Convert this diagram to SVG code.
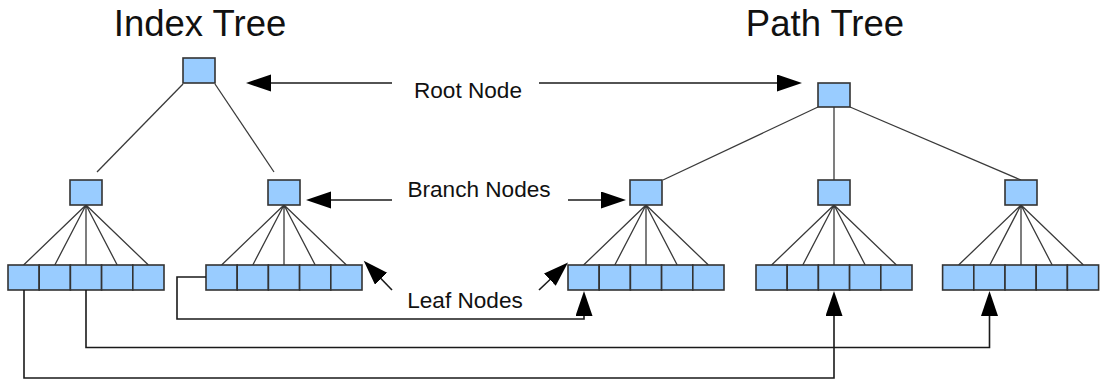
<svg xmlns="http://www.w3.org/2000/svg" width="1105" height="381" viewBox="0 0 1105 381">
  <style>
    .node { fill: #99ccff; stroke: #333; stroke-width: 1.6; }
    .edge { stroke: #3a3a3a; stroke-width: 1.3; fill: none; }
    .conn { stroke: #1a1a1a; stroke-width: 1.6; fill: none; }
    .arrow { stroke: #1a1a1a; stroke-width: 1.6; fill: none; marker-end: url(#head); }
    .title { font-family: "Liberation Sans", Arial, sans-serif; font-size: 36.5px; fill: #111; text-anchor: middle; }
    .label { font-family: "Liberation Sans", Arial, sans-serif; font-size: 22.6px; fill: #111; text-anchor: middle; }
  </style>
  <defs>
    <!-- filled arrowhead, anchored at its base so lines stop where the head starts -->
    <marker id="head" markerUnits="userSpaceOnUse" markerWidth="26" markerHeight="18" refX="1" refY="8.5" orient="auto">
      <path d="M0,0 L25,8.5 L0,17 Z" fill="#000"/>
    </marker>
  </defs>

  <rect width="1105" height="381" fill="#fff"/>

  <!-- titles -->
  <text class="title" x="200" y="36">Index Tree</text>
  <text class="title" x="825" y="36">Path Tree</text>

  <!-- tree edges -->
  <g id="tree-edges">
    <!-- index tree -->
    <line class="edge" x1="183" y1="84" x2="97" y2="172"/>
    <line class="edge" x1="215" y1="84" x2="274" y2="172"/>
    <path class="edge" d="M86,205 L23.6,265 M86,205 L54.8,265 M86,205 L86,265 M86,205 L117.2,265 M86,205 L148.4,265"/>
    <path class="edge" d="M284,205 L221.6,265 M284,205 L252.8,265 M284,205 L284,265 M284,205 L315.2,265 M284,205 L346.4,265"/>
    <!-- path tree -->
    <line class="edge" x1="818" y1="107" x2="663" y2="180"/>
    <line class="edge" x1="834" y1="107" x2="834" y2="180"/>
    <line class="edge" x1="850" y1="107" x2="1021" y2="180"/>
    <path class="edge" d="M646,205 L583.6,265 M646,205 L614.8,265 M646,205 L646,265 M646,205 L677.2,265 M646,205 L708.4,265"/>
    <path class="edge" d="M834,205 L771.6,265 M834,205 L802.8,265 M834,205 L834,265 M834,205 L865.2,265 M834,205 L896.4,265"/>
    <path class="edge" d="M1021,205 L958.6,265 M1021,205 L989.8,265 M1021,205 L1021,265 M1021,205 L1052.2,265 M1021,205 L1083.4,265"/>
  </g>

  <!-- index tree nodes -->
  <g id="index-root"><rect class="node" x="183" y="58" width="32" height="25"/></g>
  <g id="index-branch-1"><rect class="node" x="70" y="180" width="32" height="25"/></g>
  <g id="index-branch-2"><rect class="node" x="268" y="180" width="32" height="25"/></g>
  <g id="index-leaves-1">
    <rect class="node" x="8" y="265" width="31.2" height="25"/>
    <rect class="node" x="39.2" y="265" width="31.2" height="25"/>
    <rect class="node" x="70.4" y="265" width="31.2" height="25"/>
    <rect class="node" x="101.6" y="265" width="31.2" height="25"/>
    <rect class="node" x="132.8" y="265" width="31.2" height="25"/>
  </g>
  <g id="index-leaves-2">
    <rect class="node" x="206" y="265" width="31.2" height="25"/>
    <rect class="node" x="237.2" y="265" width="31.2" height="25"/>
    <rect class="node" x="268.4" y="265" width="31.2" height="25"/>
    <rect class="node" x="299.6" y="265" width="31.2" height="25"/>
    <rect class="node" x="330.8" y="265" width="31.2" height="25"/>
  </g>

  <!-- path tree nodes -->
  <g id="path-root"><rect class="node" x="818" y="83" width="32" height="24"/></g>
  <g id="path-branch-1"><rect class="node" x="630" y="180" width="32" height="25"/></g>
  <g id="path-branch-2"><rect class="node" x="818" y="180" width="32" height="25"/></g>
  <g id="path-branch-3"><rect class="node" x="1005" y="180" width="32" height="25"/></g>
  <g id="path-leaves-1">
    <rect class="node" x="568" y="265" width="31.2" height="25"/>
    <rect class="node" x="599.2" y="265" width="31.2" height="25"/>
    <rect class="node" x="630.4" y="265" width="31.2" height="25"/>
    <rect class="node" x="661.6" y="265" width="31.2" height="25"/>
    <rect class="node" x="692.8" y="265" width="31.2" height="25"/>
  </g>
  <g id="path-leaves-2">
    <rect class="node" x="756" y="265" width="31.2" height="25"/>
    <rect class="node" x="787.2" y="265" width="31.2" height="25"/>
    <rect class="node" x="818.4" y="265" width="31.2" height="25"/>
    <rect class="node" x="849.6" y="265" width="31.2" height="25"/>
    <rect class="node" x="880.8" y="265" width="31.2" height="25"/>
  </g>
  <g id="path-leaves-3">
    <rect class="node" x="942.6" y="265" width="31.2" height="25"/>
    <rect class="node" x="973.8" y="265" width="31.2" height="25"/>
    <rect class="node" x="1005" y="265" width="31.2" height="25"/>
    <rect class="node" x="1036.2" y="265" width="31.2" height="25"/>
    <rect class="node" x="1067.4" y="265" width="31.2" height="25"/>
  </g>

  <!-- labels -->
  <g id="label-root"><text class="label" x="468" y="98">Root Node</text></g>
  <g id="label-branch"><text class="label" x="479" y="197">Branch Nodes</text></g>
  <g id="label-leaf"><text class="label" x="465" y="308">Leaf Nodes</text></g>

  <!-- connectors -->
  <g id="connectors">
    <!-- root node pointers -->
    <path class="arrow" d="M392,83 H270"/>
    <path class="arrow" d="M539,83 H778"/>
    <!-- branch node pointers -->
    <path class="arrow" d="M392,200 H330"/>
    <path class="arrow" d="M568,200 H602"/>
    <!-- leaf node pointers -->
    <path class="arrow" d="M392,290 L380.4,278"/>
    <path class="arrow" d="M539,290 L550.6,279"/>
    <!-- leaf links from the index tree into the path tree -->
    <path class="arrow" d="M206,277 H177 V319 H584 V315"/>
    <path class="arrow" d="M86,290 V347.5 H989.5 V315"/>
    <path class="arrow" d="M24,290 V378 H834 V315"/>
  </g>
</svg>
